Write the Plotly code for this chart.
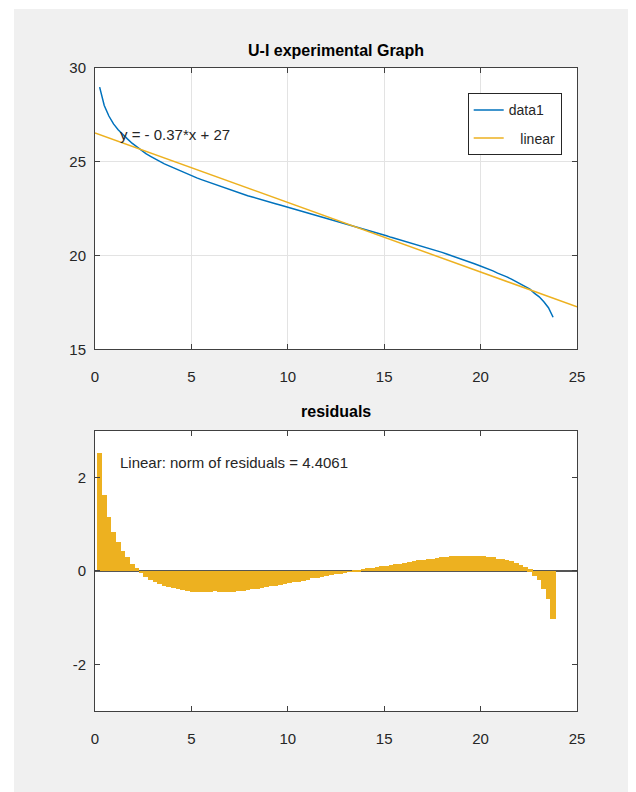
import plotly.graph_objects as go

# ---- data ----
current = [0.24, 0.48, 0.72, 0.96, 1.20, 1.44, 1.68, 1.92, 2.16, 2.40,
           2.64, 2.88, 3.12, 3.36, 3.60, 3.84, 4.08, 4.32, 4.56, 4.80,
           5.04, 5.28, 5.52, 5.76, 6.00, 6.24, 6.48, 6.72, 6.96, 7.20,
           7.44, 7.68, 7.92, 8.16, 8.40, 8.64, 8.88, 9.12, 9.36, 9.60,
           9.84, 10.08, 10.32, 10.56, 10.80, 11.04, 11.28, 11.52, 11.76, 12.00,
           12.24, 12.48, 12.72, 12.96, 13.20, 13.44, 13.68, 13.92, 14.16, 14.40,
           14.64, 14.88, 15.12, 15.36, 15.60, 15.84, 16.08, 16.32, 16.56, 16.80,
           17.04, 17.28, 17.52, 17.76, 18.00, 18.24, 18.48, 18.72, 18.96, 19.20,
           19.44, 19.68, 19.92, 20.16, 20.40, 20.64, 20.88, 21.12, 21.36, 21.60,
           21.84, 22.08, 22.32, 22.56, 22.80, 23.04, 23.28, 23.52, 23.76]

voltage = [28.98, 28.00, 27.44, 27.02, 26.71, 26.44, 26.22, 25.99, 25.80, 25.61,
           25.43, 25.29, 25.15, 25.02, 24.89, 24.78, 24.67, 24.56, 24.44, 24.33,
           24.23, 24.14, 24.05, 23.96, 23.87, 23.79, 23.70, 23.61, 23.52, 23.43,
           23.35, 23.27, 23.19, 23.12, 23.04, 22.98, 22.91, 22.83, 22.76, 22.69,
           22.62, 22.55, 22.47, 22.40, 22.33, 22.26, 22.20, 22.13, 22.06, 21.99,
           21.91, 21.84, 21.77, 21.70, 21.63, 21.56, 21.50, 21.42, 21.35, 21.27,
           21.20, 21.12, 21.05, 20.97, 20.90, 20.82, 20.75, 20.68, 20.61, 20.54,
           20.46, 20.39, 20.31, 20.24, 20.17, 20.08, 20.00, 19.92, 19.83, 19.74,
           19.65, 19.56, 19.47, 19.38, 19.28, 19.18, 19.06, 18.97, 18.86, 18.74,
           18.61, 18.48, 18.34, 18.21, 17.98, 17.80, 17.53, 17.22, 16.71]

fit_slope = -0.371
fit_intercept = 26.54
fit_x = [0, 25]

x_ticks = [0, 5, 10, 15, 20, 25]
top_y_ticks = [15, 20, 25, 30]
bottom_y_ticks = [-2, 0, 2]
bottom_y_labels = ["-2", "0", "2"]

eq_label = "y = - 0.37*x + 27"
norm_label = "Linear: norm of residuals = 4.4061"

# ---- derived (as the fitting tool does) ----
fit_y = [fit_slope * x + fit_intercept for x in fit_x]
residuals = [v - (fit_slope * x + fit_intercept) for x, v in zip(current, voltage)]

BLUE = "#0072BD"
YELLOW = "#EDB120"
AXC = "#404040"
TXT = "#262626"
FONT = "Liberation Sans, Arial, Helvetica, sans-serif"

fig = go.Figure()
fig.add_trace(go.Scatter(x=current, y=voltage, mode="lines", name="data1",
                         line=dict(color=BLUE, width=1.5), xaxis="x", yaxis="y",
                         legendgroup="a"))
fig.add_trace(go.Scatter(x=fit_x, y=fit_y, mode="lines", name="\u00a0\u00a0\u00a0linear",
                         line=dict(color=YELLOW, width=1.5), xaxis="x", yaxis="y",
                         legendgroup="b"))
fig.add_trace(go.Bar(x=current, y=residuals, width=0.27,
                     marker=dict(color=YELLOW, line=dict(width=0)),
                     showlegend=False, xaxis="x2", yaxis="y2"))

# page has an 8px body margin: convert page pixel coords to figure coords
OFF = 8
W, H = 636, 792
L = 95 - OFF
T = 68 - OFF
R = W - (577 - OFF)
B = H - (711 - OFF)
pw, ph = W - L - R, H - T - B

def py(page_y):
    return (H - B - (page_y - OFF)) / ph

def px(page_x):
    return ((page_x - OFF) - L) / pw

axis_common = dict(showline=True, linecolor=AXC, linewidth=1, mirror="ticks",
                   ticks="inside", ticklen=5, tickcolor=AXC,
                   tickfont=dict(family=FONT, size=15, color=TXT), zeroline=False)

fig.update_layout(
    width=W, height=H,
    margin=dict(l=L, r=R, t=T, b=B),
    paper_bgcolor="#f0f0f0", plot_bgcolor="white",
    bargap=0,
    showlegend=True,
    xaxis=dict(domain=[0, 1], anchor="y", range=[0, 25], tickvals=x_ticks,
               showgrid=True, gridcolor="#e3e3e3", ticklabelstandoff=14, **axis_common),
    yaxis=dict(domain=[py(349.3), 1], anchor="x", range=[15, 30], tickvals=top_y_ticks,
               showgrid=True, gridcolor="#e3e3e3", ticklabelstandoff=5, **axis_common),
    xaxis2=dict(domain=[0, 1], anchor="y2", range=[0, 25], tickvals=x_ticks,
                showgrid=False, ticklabelstandoff=14, **axis_common),
    yaxis2=dict(domain=[0, py(430.7)], anchor="x2", range=[-3, 3], tickvals=bottom_y_ticks,
                ticktext=bottom_y_labels,
                showgrid=False, ticklabelstandoff=5, **axis_common),
    legend=dict(x=px(561.7), y=py(93.3), xanchor="right", yanchor="top",
                bgcolor="white", bordercolor=TXT, borderwidth=1,
                font=dict(family=FONT, size=14, color=TXT), tracegroupgap=7),
)
fig.update_yaxes(zeroline=True, zerolinecolor="#555555", zerolinewidth=1.5, selector=dict(anchor="x2"))

fig.add_annotation(x=0.5, y=py(50), xref="paper", yref="paper", text="<b>U-I experimental Graph</b>",
                   showarrow=False, xanchor="center", yanchor="middle",
                   font=dict(family=FONT, size=16, color="black"))
fig.add_annotation(x=0.5, y=py(411), xref="paper", yref="paper", text="<b>residuals</b>",
                   showarrow=False, xanchor="center", yanchor="middle",
                   font=dict(family=FONT, size=16, color="black"))
fig.add_annotation(x=1.18, y=26.44, xref="x", yref="y", text=eq_label, showarrow=False,
                   xanchor="left", yanchor="middle", font=dict(family=FONT, size=15, color=TXT))
fig.add_annotation(x=1.18, y=2.32, xref="x2", yref="y2", text=norm_label, showarrow=False,
                   xanchor="left", yanchor="middle", font=dict(family=FONT, size=15, color=TXT))

# white strips of the screenshot border (beyond the 8px page margin)
fig.add_shape(type="rect", xref="paper", yref="paper", x0=px(OFF), x1=px(14), y0=py(H + OFF), y1=py(OFF),
              fillcolor="white", line=dict(width=0), layer="below")
fig.add_shape(type="rect", xref="paper", yref="paper", x0=px(OFF), x1=px(W + OFF), y0=py(9), y1=py(OFF),
              fillcolor="white", line=dict(width=0), layer="below")

fig.write_html("out.html")
